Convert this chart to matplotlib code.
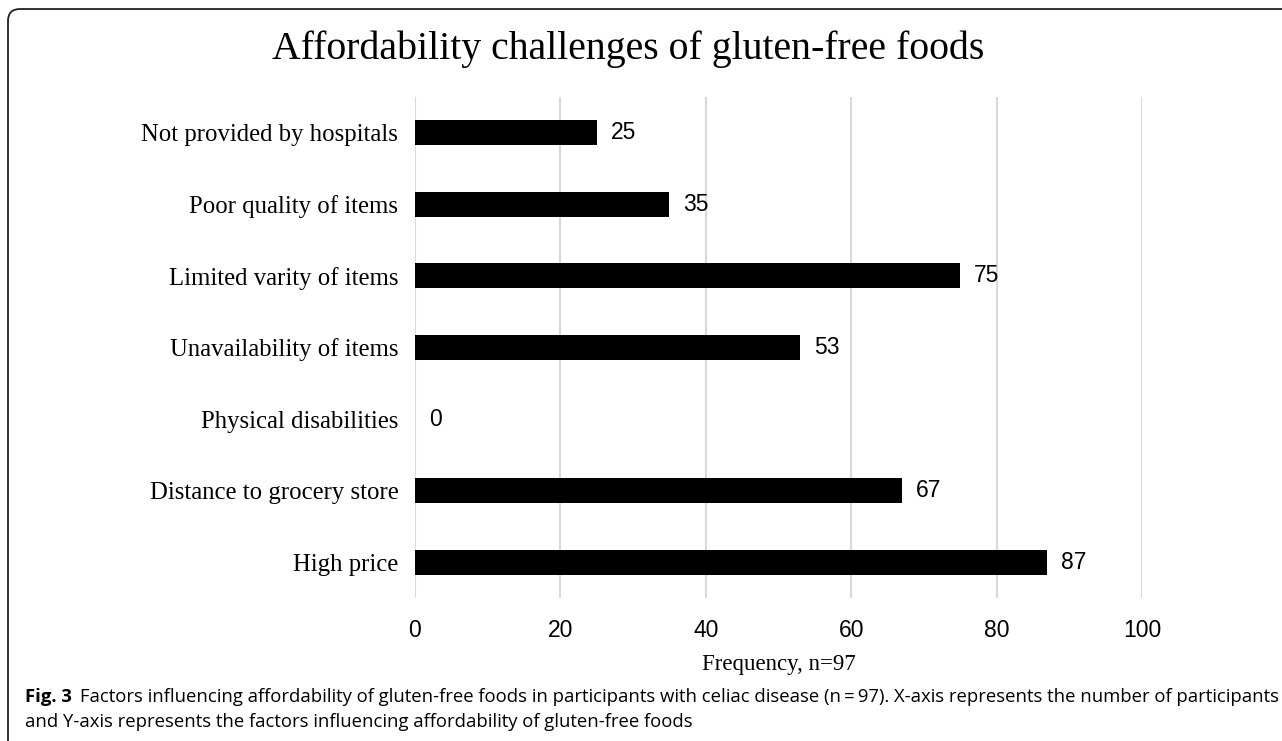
import numpy as np
import matplotlib
matplotlib.use("Agg")
import matplotlib.pyplot as plt
from matplotlib.path import Path
from matplotlib.patches import PathPatch

categories = ["Not provided by hospitals", "Poor quality of items", "Limited varity of items",
              "Unavailability of items", "Physical disabilities", "Distance to grocery store",
              "High price"]
counts = [25, 35, 75, 53, 0, 67, 87]
xticks = [0, 20, 40, 60, 80, 100]

W, H = 1282, 741
fig = plt.figure(figsize=(W / 100, H / 100), dpi=100)
ax = fig.add_axes([415 / W, 1 - 598 / H, (1142 - 415) / W, (598 - 97) / H])

pos = np.arange(len(categories))
bars = ax.barh(pos, counts, height=0.35, color="black")
ax.bar_label(bars, labels=[str(c) for c in counts], padding=10,
             fontsize=16.5, family="Liberation Sans")

ax.set_xlim(0, 100)
ax.set_ylim(len(categories) - 0.5, -0.5)
ax.set_xticks(xticks)
ax.set_yticks(pos)
ax.set_yticklabels(categories, family="Liberation Serif", fontsize=17.8)
ax.set_xticklabels([str(t) for t in xticks], family="Liberation Sans", fontsize=16.5)
ax.tick_params(length=0)
ax.tick_params(axis="y", pad=12)
ax.tick_params(axis="x", pad=15)
for s in ax.spines.values():
    s.set_visible(False)
ax.grid(axis="x", color="#d9d9d9", linewidth=1.5)
ax.set_axisbelow(True)
ax.set_xlabel("Frequency, n=97", family="Liberation Serif", fontsize=16.5, labelpad=9)

fig.text(628 / W, 1 - 59 / H, "Affordability challenges of gluten-free foods",
         family="Liberation Serif", fontsize=28.6, ha="center", va="baseline")

# caption
cap_font = "Open Sans"
cap_size = 13.3
fig.text(25 / W, 1 - 702 / H, "Fig. 3", family=cap_font, fontweight="bold",
         fontsize=cap_size, va="baseline")
fig.text(80 / W, 1 - 702 / H,
         "Factors influencing affordability of gluten-free foods in participants with celiac disease "
         "(n\u2009=\u200997). X-axis represents the number of participants",
         family=cap_font, fontsize=cap_size, va="baseline")
fig.text(25 / W, 1 - 727 / H,
         "and Y-axis represents the factors influencing affordability of gluten-free foods",
         family=cap_font, fontsize=cap_size, va="baseline")

# frame: top and left edges with a rounded corner
x0, y0, r = 8, 9, 12
verts = [(x0, H + 5), (x0, y0 + r), (x0, y0), (x0 + r, y0), (W + 5, y0)]
codes = [Path.MOVETO, Path.LINETO, Path.CURVE3, Path.CURVE3, Path.LINETO]
verts = [(vx / W, 1 - vy / H) for vx, vy in verts]
fig.add_artist(PathPatch(Path(verts, codes), fill=False, edgecolor="#222222",
                         linewidth=1.3, transform=fig.transFigure, clip_on=False))

fig.savefig("out.png", dpi=100)
